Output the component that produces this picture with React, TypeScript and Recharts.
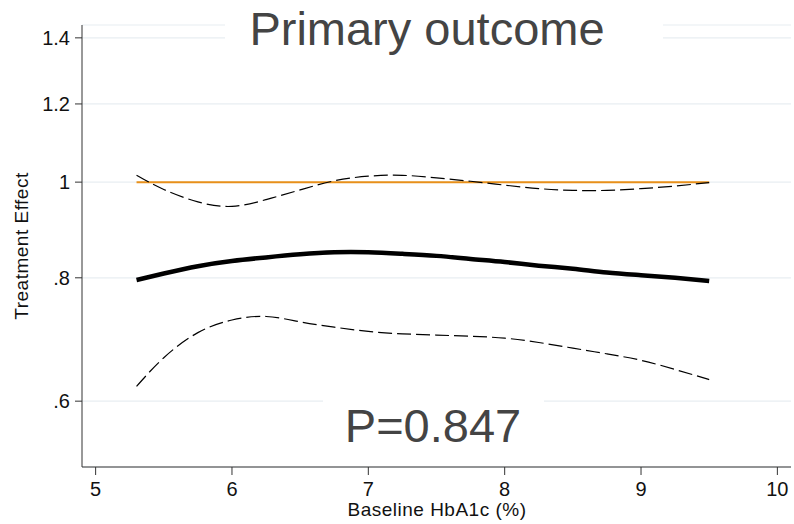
import React from "react";
import { ComposedChart, Line, XAxis, YAxis, CartesianGrid, ReferenceLine } from "recharts";

// Baseline HbA1c (%) grid the effect curve is evaluated on
const hba1c = [5.3, 5.5, 5.75, 6, 6.25, 6.5, 6.75, 7, 7.25, 7.5, 7.75, 8, 8.25, 8.5, 8.75, 9, 9.25, 9.5];

// Treatment effect and its 95% band
const effect = [0.796, 0.808, 0.822, 0.832, 0.839, 0.845, 0.849, 0.849, 0.846, 0.842, 0.836, 0.83, 0.823, 0.817, 0.81, 0.805, 0.8, 0.794];
const upper = [1.016, 0.983, 0.955, 0.945, 0.96, 0.982, 1.003, 1.014, 1.016, 1.01, 1.002, 0.993, 0.985, 0.981, 0.981, 0.985, 0.991, 0.999];
const lower = [0.621, 0.664, 0.704, 0.725, 0.731, 0.722, 0.713, 0.706, 0.702, 0.7, 0.698, 0.695, 0.688, 0.679, 0.67, 0.66, 0.646, 0.631];

const xTicks = [5, 6, 7, 8, 9, 10];
const yTicks = [0.6, 0.8, 1, 1.2, 1.4];

const title = "Primary outcome";
const pLabel = "P=0.847";

const data = hba1c.map((x, i) => ({ x, effect: effect[i], upper: upper[i], lower: lower[i] }));

const font = "'Liberation Sans', Arial, Helvetica, sans-serif";
const axisColor = "#333333";
const textColor = "#444444";

const fmtY = (v: number) => String(v).replace(/^0\./, ".");

export default function App() {
  return (
    <div style={{ position: "absolute", left: 0, top: 0, width: 794, height: 524, background: "#fff", fontFamily: font }}>
      <ComposedChart width={794} height={524} data={data} margin={{ top: 25, right: 3, bottom: 0, left: 0 }}>
        <CartesianGrid horizontal vertical={false} stroke="#e8eef2" strokeWidth={1.2} />
        <XAxis
          type="number"
          dataKey="x"
          domain={[4.9, 10.1]}
          ticks={xTicks}
          allowDataOverflow
          height={57}
          tickSize={8}
          tickMargin={7}
          stroke={axisColor}
          tick={{ fill: "#111", fontSize: 20, fontFamily: font }}
        />
        <YAxis
          scale="log"
          type="number"
          domain={[0.5146, 1.4426]}
          ticks={yTicks}
          allowDataOverflow
          width={82}
          tickSize={7}
          tickMargin={5}
          stroke={axisColor}
          tickFormatter={fmtY}
          tick={{ fill: "#111", fontSize: 20, fontFamily: font }}
        />
        <ReferenceLine
          segment={[{ x: 5.3, y: 1 }, { x: 9.5, y: 1 }]}
          stroke="#e8901a"
          strokeWidth={2}
          ifOverflow="visible"
        />
        <Line dataKey="upper" type="natural" stroke="#000" strokeWidth={1.2} strokeDasharray="14 5" dot={false} isAnimationActive={false} />
        <Line dataKey="lower" type="natural" stroke="#000" strokeWidth={1.2} strokeDasharray="14 5" dot={false} isAnimationActive={false} />
        <Line dataKey="effect" type="natural" stroke="#000" strokeWidth={4.5} dot={false} isAnimationActive={false} />
      </ComposedChart>
      <svg width={794} height={524} style={{ position: "absolute", left: 0, top: 0, pointerEvents: "none" }}>
        <rect x={225} y={6} width={438} height={46} fill="#fff" />
        <text x={427} y={45} textAnchor="middle" fontSize={47} fill={textColor} fontFamily={font}>{title}</text>
        <rect x={323} y={396} width={221} height={52} fill="#fff" />
        <text x={433} y={442} textAnchor="middle" fontSize={47} fill={textColor} fontFamily={font}>{pLabel}</text>
        <text x={437} y={516} textAnchor="middle" fontSize={19} letterSpacing={0.5} fill="#111" fontFamily={font}>Baseline HbA1c (%)</text>
        <text x={28} y={246} textAnchor="middle" fontSize={19} letterSpacing={0.5} fill="#111" fontFamily={font} transform="rotate(-90, 28, 246)">Treatment Effect</text>
      </svg>
    </div>
  );
}
